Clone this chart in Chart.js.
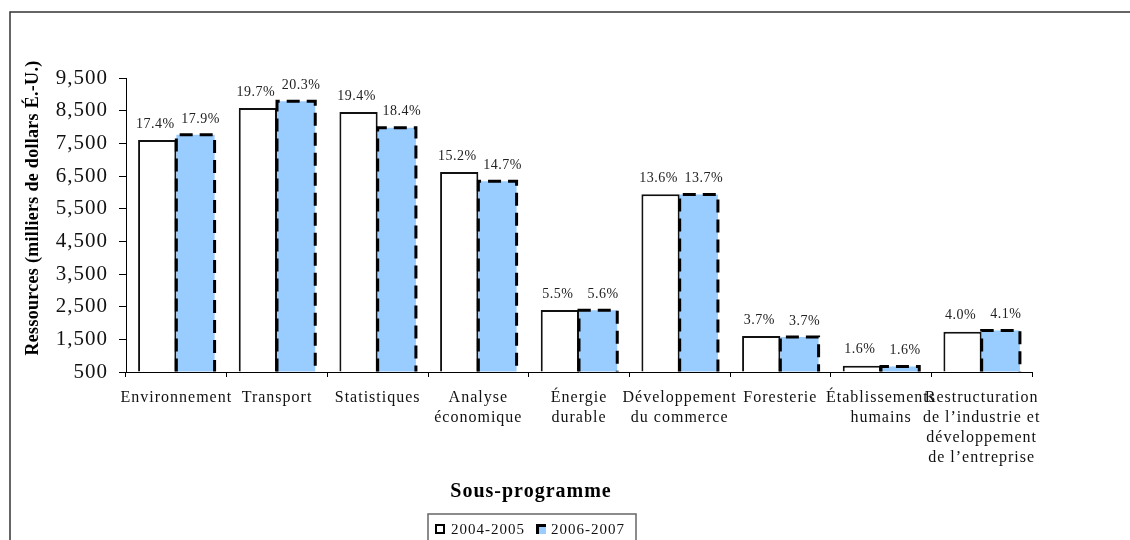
<!DOCTYPE html>
<html>
<head>
<meta charset="utf-8">
<script src="https://cdn.jsdelivr.net/npm/chart.js@4"></script>
<style>
  body { margin: 0; background: #fff; }
</style>
</head>
<body>
<canvas id="myChart" width="1130" height="540"></canvas>
<script>
const categories = [
    'Environnement', 'Transport', 'Statistiques', ['Analyse', 'économique'],
    ['Énergie', 'durable'], ['Développement', 'du commerce'], 'Foresterie',
    ['Établissements', 'humains'],
    ['Restructuration', 'de l’industrie et', 'développement', 'de l’entreprise']
]
const seriesNames = ['2004-2005', '2006-2007']
const values2004 = [7600, 8580, 8460, 6620, 2400, 5940, 1600, 690, 1730]
const values2006 = [7760, 8790, 7980, 6340, 2390, 5930, 1570, 670, 1770]
const pct2004 = [17.4, 19.7, 19.4, 15.2, 5.5, 13.6, 3.7, 1.6, 4.0]
const pct2006 = [17.9, 20.3, 18.4, 14.7, 5.6, 13.7, 3.7, 1.6, 4.1]
const yTicks = [500, 1500, 2500, 3500, 4500, 5500, 6500, 7500, 8500, 9500]

const serif = '"Liberation Serif", "Times New Roman", serif'
const blue = '#99CCFF'

// frame, titles, legend, dashed outlines and % labels
const extras = {
    id: 'extras',
    beforeUpdate(chart) {
        chart.ctx.letterSpacing = '1px'
    },
    beforeDraw(chart) {
        const c = chart.ctx
        c.letterSpacing = '1px'
        c.save()
        c.fillStyle = '#fff'
        c.fillRect(0, 0, chart.width, chart.height)
        c.restore()
    },
    afterDatasetsDraw(chart) {
        const c = chart.ctx
        // dashed border of the 2006-2007 bars
        c.save()
        c.strokeStyle = '#000'
        c.lineWidth = 3
        c.setLineDash([13, 7])
        chart.getDatasetMeta(1).data.forEach(bar => {
            const p = bar.getProps(['x', 'y', 'base', 'width'], true)
            const l = p.x - p.width / 2, r = p.x + p.width / 2
            c.beginPath()
            c.moveTo(l, p.base)
            c.lineTo(l, p.y)
            c.lineTo(r, p.y)
            c.lineTo(r, p.base)
            c.stroke()
        })
        c.restore()

        // percentage labels
        const pcts = [pct2004, pct2006]
        const dx = [-2, 5]
        c.save()
        c.font = '14px ' + serif
        c.letterSpacing = '0.5px'
        c.fillStyle = '#222'
        c.textAlign = 'center'
        c.textBaseline = 'middle'
        pcts.forEach((arr, d) => {
            chart.getDatasetMeta(d).data.forEach((bar, i) => {
                const p = bar.getProps(['x', 'y'], true)
                c.fillText(arr[i].toFixed(1) + '%', p.x + dx[d], p.y - 16)
            })
        })
        c.restore()
    },
    afterDraw(chart) {
        const c = chart.ctx
        c.save()
        // outer frame
        c.strokeStyle = '#333'
        c.lineWidth = 1.5
        c.strokeRect(10, 12, 1200, 600)

        // y title
        c.fillStyle = '#000'
        c.font = 'bold 18px ' + serif
        c.letterSpacing = '0.3px'
        c.textAlign = 'center'
        c.textBaseline = 'middle'
        c.save()
        c.translate(33, 208)
        c.rotate(-Math.PI / 2)
        c.fillText('Ressources (milliers de dollars É.-U.)', 0, 0)
        c.restore()

        // x title
        c.font = 'bold 20px ' + serif
        c.letterSpacing = '1px'
        c.fillText('Sous-programme', 531, 492)

        // legend
        c.strokeStyle = '#666'
        c.lineWidth = 1.5
        c.strokeRect(428, 514, 208, 40)
        c.font = '15px ' + serif
        c.letterSpacing = '1px'
        c.textAlign = 'left'
        c.fillStyle = '#fff'
        c.fillRect(436, 525, 8, 8)
        c.strokeStyle = '#000'
        c.lineWidth = 2
        c.strokeRect(436, 525, 8, 8)
        c.fillStyle = blue
        c.fillRect(536, 524, 10, 10)
        c.fillStyle = '#000'
        c.fillRect(536, 524, 10, 3)
        c.fillRect(536, 524, 3, 10)
        c.fillStyle = '#111'
        c.fillText(seriesNames[0], 451, 530)
        c.fillText(seriesNames[1], 551, 530)
        c.restore()
    }
}

const ctx = document.getElementById('myChart')

new Chart(ctx, {
    type: 'bar',
    data: {
        labels: categories,
        datasets: [{
            label: seriesNames[0],
            data: values2004,
            backgroundColor: '#fff',
            borderColor: '#111',
            borderWidth: 2,
            base: yTicks[0],
            categoryPercentage: 0.76,
            barPercentage: 1.0
        }, {
            label: seriesNames[1],
            data: values2006,
            backgroundColor: blue,
            borderWidth: 0,
            base: yTicks[0],
            categoryPercentage: 0.76,
            barPercentage: 1.0
        }]
    },
    options: {
        responsive: false,
        animation: false,
        devicePixelRatio: 1,
        layout: {
            padding: { left: 0, top: 78, right: 98, bottom: 0 }
        },
        plugins: {
            legend: { display: false },
            tooltip: { enabled: false }
        },
        scales: {
            x: {
                grid: {
                    display: true,
                    drawOnChartArea: false,
                    drawTicks: true,
                    tickLength: 5,
                    color: '#000'
                },
                border: { display: true, color: '#000', width: 1 },
                ticks: {
                    autoSkip: false,
                    maxRotation: 0,
                    minRotation: 0,
                    padding: 11,
                    color: '#111',
                    font: { family: serif, size: 16, lineHeight: 1.25 }
                },
                afterFit(scale) { scale.height = 168 }
            },
            y: {
                min: yTicks[0],
                max: yTicks[yTicks.length - 1],
                afterBuildTicks(scale) {
                    scale.ticks = yTicks.map(v => ({ value: v }))
                },
                grid: {
                    display: true,
                    drawOnChartArea: false,
                    drawTicks: true,
                    tickLength: 7,
                    color: '#000'
                },
                border: { display: true, color: '#000', width: 1 },
                ticks: {
                    padding: 11,
                    color: '#111',
                    font: { family: serif, size: 21 },
                    callback: v => v.toLocaleString('en-US')
                },
                afterFit(scale) { scale.width = 126 }
            }
        }
    },
    plugins: [extras]
})
</script>
</body>
</html>
